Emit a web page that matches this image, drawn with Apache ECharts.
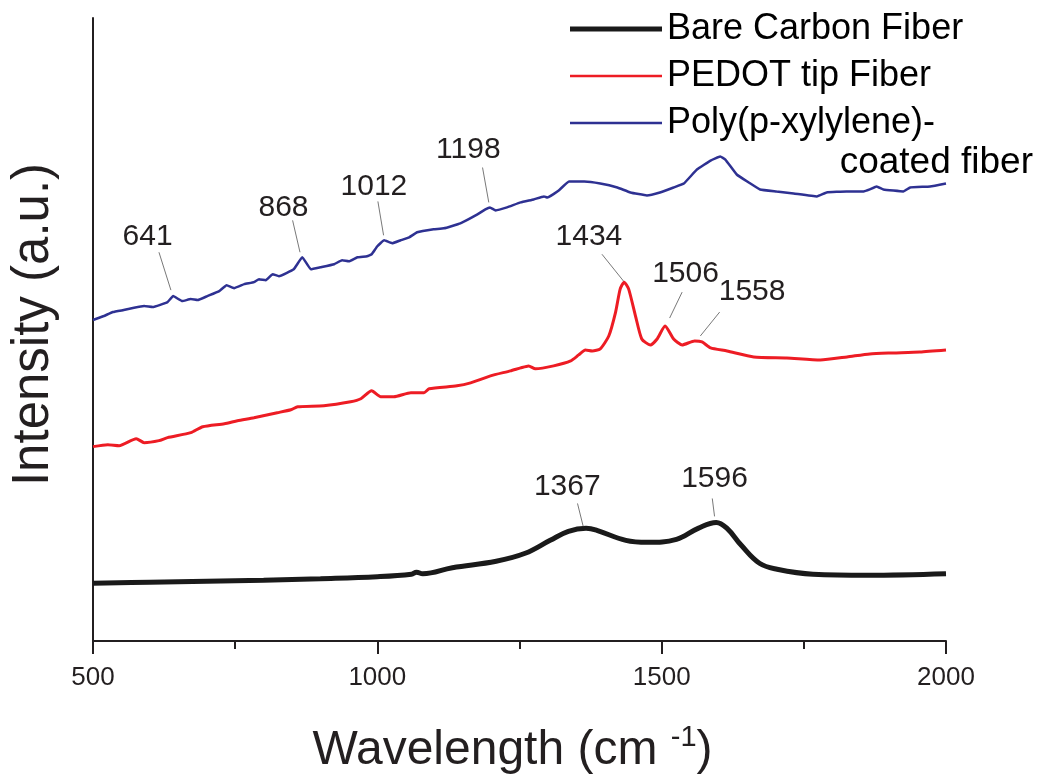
<!DOCTYPE html>
<html>
<head>
<meta charset="utf-8">
<title>Raman spectra</title>
<script src="https://cdn.jsdelivr.net/npm/echarts@6/dist/echarts.min.js"></script>
<style>
  html, body { margin: 0; padding: 0; background: #fff; }
  #chart { width: 1039px; height: 780px; }
</style>
</head>
<body>
<div id="chart"></div>
<script>
// wavenumber (cm-1) and relative intensity
var bareX = [500, 600, 700, 800, 900, 1000, 1060, 1069, 1080, 1132, 1209, 1260, 1304, 1336, 1367, 1386, 1437, 1475, 1526, 1564, 1596, 1615, 1640, 1672, 1703, 1766, 1861, 2000]
var bareY = [58, 59, 60, 61, 62.5, 64.5, 67, 69, 67.5, 73.5, 80, 88, 101, 110, 113, 111, 101, 99, 102, 113, 119, 113, 96, 78, 72, 67, 66, 67.5]

var pedotX = [500, 526, 546, 576, 590, 616, 631, 672, 693, 731, 754, 783, 824, 848, 860, 906, 953, 971, 990, 1006, 1029, 1059, 1082, 1091, 1140, 1164, 1199, 1234, 1252, 1266, 1278, 1310, 1340, 1354, 1366, 1378, 1392, 1407, 1419, 1427, 1434, 1442, 1454, 1465, 1480, 1492, 1506, 1521, 1536, 1558, 1571, 1586, 1615, 1662, 1720, 1779, 1826, 1866, 1907, 1954, 2000]
var pedotY = [195, 197, 196, 203, 199, 201, 204, 209, 215, 218, 221, 224, 229, 232, 235, 236, 240, 243, 251, 245, 245, 249, 249, 253, 256, 259, 266, 271, 274, 276, 273, 276, 281, 287, 292, 291, 293, 306, 330, 353, 360, 353, 326, 303, 297, 303, 316, 303, 297, 301, 300, 294, 291, 285, 284, 282, 285, 288, 289, 290, 292]

var polyX = [500, 519, 535, 554, 590, 605, 631, 641, 657, 672, 684, 701, 722, 735, 748, 766, 783, 792, 804, 816, 827, 853, 868, 883, 900, 924, 938, 950, 965, 982, 990, 1000, 1012, 1026, 1041, 1056, 1070, 1099, 1117, 1146, 1176, 1190, 1198, 1208, 1228, 1252, 1275, 1293, 1299, 1319, 1337, 1364, 1392, 1422, 1445, 1474, 1497, 1521, 1539, 1562, 1586, 1603, 1612, 1632, 1653, 1673, 1702, 1732, 1773, 1790, 1825, 1855, 1866, 1878, 1890, 1925, 1937, 1972, 2000]
var polyY = [322, 326, 330, 332, 336, 335, 340, 346, 341, 343, 342, 346, 351, 357, 354, 358, 360, 363, 362, 368, 366, 373, 385, 373, 375, 378, 382, 381, 385, 386, 388, 396, 402, 399, 402, 405, 410, 413, 414, 419, 428, 433, 435, 432, 435, 440, 443, 446, 445, 452, 461, 461, 459, 455, 450, 447, 450, 455, 459, 473, 482, 486, 483, 468, 460, 453, 451, 449, 446, 450, 451, 451, 453, 456, 453, 451, 455, 456, 459]

// x axis ticks
var xTicks = [500, 1000, 1500, 2000]

// peak annotations: label text, leader line (peak end, label end) and label centre
var polyPeaks = ['641', '868', '1012', '1198']
var polyLineLow = [[637, 352], [864, 390], [1011, 407], [1196, 440]]
var polyLineHigh = [[616, 390], [851, 422], [1001, 441], [1185, 475]]
var polyText = [[596, 406], [835, 435], [994, 456], [1160, 493]]

var pedotPeaks = ['1434', '1506', '1558']
var pedotLineLow = [[1433, 361], [1514, 324], [1568, 306]]
var pedotLineHigh = [[1395, 388], [1536, 350], [1602, 330]]
var pedotText = [[1372, 406], [1542, 368], [1659, 350]]

var barePeaks = ['1367', '1596']
var bareLineLow = [[1362, 115], [1593, 125]]
var bareLineHigh = [[1352, 138], [1589, 143]]
var bareText = [[1334, 155], [1593, 163]]

var FONT = 'Liberation Sans, Arial, sans-serif'

function zip (xs, ys) {
  return xs.map(function (x, i) { return [x, ys[i]] })
}

// leader lines + peak labels for one series
function annotate (peaks, low, high, text) {
  return {
    markLine: {
      silent: true,
      symbol: ['none', 'none'],
      animation: false,
      label: { show: false },
      lineStyle: { color: '#555', width: 0.8, type: 'solid' },
      data: peaks.map(function (p, i) {
        return [{ coord: low[i] }, { coord: high[i] }]
      })
    },
    markPoint: {
      silent: true,
      symbol: 'circle',
      symbolSize: 1,
      animation: false,
      itemStyle: { color: 'rgba(0,0,0,0)' },
      label: {
        show: true,
        position: 'inside',
        formatter: '{b}',
        fontFamily: FONT,
        fontSize: 30,
        color: '#231f20'
      },
      data: peaks.map(function (p, i) {
        return { name: p, coord: text[i] }
      })
    }
  }
}

function makeSeries (name, xs, ys, color, width, smooth, ann) {
  var s = {
    name: name,
    type: 'line',
    data: zip(xs, ys),
    showSymbol: false,
    symbol: 'none',
    smooth: smooth,
    animation: false,
    color: color,
    lineStyle: { color: color, width: width }
  }
  return Object.assign(s, ann)
}

var chart = echarts.init(document.getElementById('chart'))

chart.setOption({
  backgroundColor: '#fff',
  grid: { left: 92, right: 93, top: 18, bottom: 137 },
  legend: {
    data: [
      { name: 'Bare Carbon Fiber', icon: 'path://M0,0H92V5H0Z' },
      { name: 'PEDOT tip Fiber', icon: 'path://M0,0H92V2.5H0Z' },
      { name: 'Poly(p-xylylene)-', icon: 'path://M0,0H92V2.5H0Z' }
    ],
    orient: 'vertical',
    left: 565,
    top: 6,
    itemWidth: 92,
    itemHeight: 36,
    itemGap: 11,
    textStyle: { fontFamily: FONT, fontSize: 36, color: '#000', lineHeight: 36 }
  },
  xAxis: {
    type: 'value',
    min: 500,
    max: 2000,
    interval: 500,
    name: 'Wavelength (cm {sup|-1})',
    nameLocation: 'middle',
    nameGap: 82,
    nameTextStyle: {
      fontFamily: FONT,
      fontSize: 48,
      color: '#231f20',
      padding: [0, 14, 0, 0],
      rich: { sup: { fontFamily: FONT, fontSize: 29, color: '#231f20', verticalAlign: 'top', padding: [0, 0, 27, 0] } }
    },
    axisLine: { lineStyle: { color: '#231f20', width: 2 } },
    axisTick: { length: 13, lineStyle: { color: '#231f20', width: 2 } },
    minorTick: { show: true, splitNumber: 2, length: 8, lineStyle: { color: '#231f20', width: 2 } },
    axisLabel: {
      margin: 24,
      fontFamily: FONT,
      fontSize: 26,
      color: '#231f20',
      formatter: function (v) { return xTicks.indexOf(v) >= 0 ? String(v) : '' }
    },
    splitLine: { show: false }
  },
  yAxis: {
    type: 'value',
    min: 0,
    max: 625,
    name: 'Intensity (a.u.)',
    nameLocation: 'middle',
    nameGap: 34,
    nameTextStyle: { fontFamily: FONT, fontSize: 51, color: '#231f20', padding: [0, 0, 0, 10] },
    axisLine: { show: true, lineStyle: { color: '#231f20', width: 2 } },
    axisTick: { show: false },
    axisLabel: { show: false },
    splitLine: { show: false }
  },
  graphic: [{
    type: 'text',
    right: 6,
    top: 144,
    style: { text: 'coated fiber', font: '37px ' + FONT, fill: '#000' }
  }],
  series: [
    makeSeries('Bare Carbon Fiber', bareX, bareY, '#1a1a1a', 5, 0.4, annotate(barePeaks, bareLineLow, bareLineHigh, bareText)),
    makeSeries('PEDOT tip Fiber', pedotX, pedotY, '#ed1c24', 3, 0.2, annotate(pedotPeaks, pedotLineLow, pedotLineHigh, pedotText)),
    makeSeries('Poly(p-xylylene)-', polyX, polyY, '#2e3192', 2.5, 0.1, annotate(polyPeaks, polyLineLow, polyLineHigh, polyText))
  ]
})
</script>
</body>
</html>
